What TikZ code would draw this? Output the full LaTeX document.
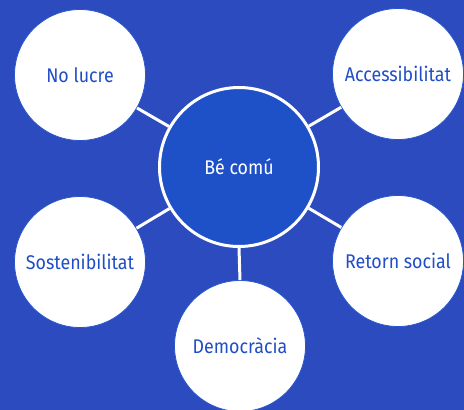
\documentclass[tikz,border=0pt]{standalone}
\usepackage{fontspec}
\setmainfont{Fira Sans}[FakeStretch=0.9]
\definecolor{bg}{RGB}{43,75,190}
\definecolor{hubfill}{RGB}{30,80,200}
\definecolor{txt}{RGB}{32,78,198}
\definecolor{ring}{RGB}{40,85,205}
\begin{document}
\begin{tikzpicture}[x=1pt,y=-1pt,
  outer/.style={circle, fill=white, draw=ring, line width=0.8pt, minimum size=131pt, inner sep=0pt, text=txt, font=\fontsize{19.8}{22}\selectfont},
  hub/.style={circle, fill=hubfill, draw=white, line width=3pt, minimum size=159pt, inner sep=0pt, text=white, font=\fontsize{19.8}{22}\selectfont},
  link/.style={draw=white, line width=3pt}]
\fill[bg] (0,0) rectangle (464,410);
\useasboundingbox (0,0) rectangle (464,410);
\node[hub] (hub) at (239,167) {Bé comú};
\node[outer] (nl) at (80,75) {No lucre};
\node[outer] (ac) at (398,74) {Accessibilitat};
\node[outer] (so) at (80,262) {Sostenibilitat};
\node[outer] (rs) at (398,261) {Retorn social};
\node[outer] (de) at (240,346) {Democràcia};
\draw[link] (hub) -- (nl);
\draw[link] (hub) -- (ac);
\draw[link] (hub) -- (so);
\draw[link] (hub) -- (rs);
\draw[link] (hub.south) -- (de.north);
\end{tikzpicture}
\end{document}
